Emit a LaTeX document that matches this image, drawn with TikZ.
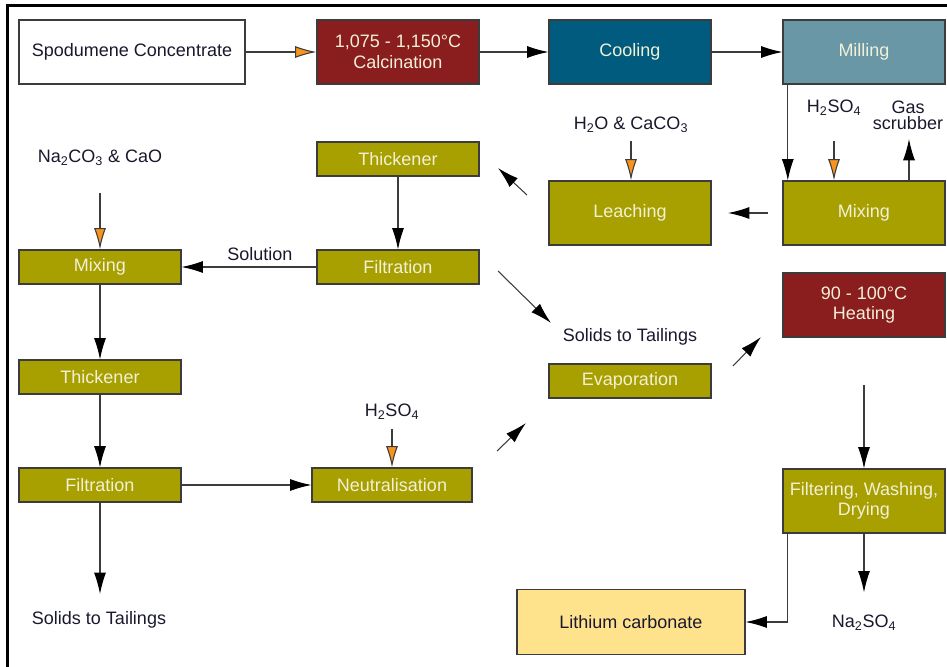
\documentclass[tikz,border=0pt]{standalone}
\usepackage{fontspec}
\setmainfont{Liberation Sans}
\usetikzlibrary{arrows.meta,calc}
\definecolor{calcred}{RGB}{138,29,29}
\definecolor{coolblue}{RGB}{0,91,126}
\definecolor{millblue}{RGB}{105,151,166}
\definecolor{procolive}{RGB}{168,160,0}
\definecolor{lithyellow}{RGB}{255,226,140}
\definecolor{tiporange}{RGB}{247,148,29}
\definecolor{linegray}{RGB}{60,60,60}
\definecolor{boxtext}{RGB}{242,240,215}
\definecolor{labeltext}{RGB}{25,25,45}

\begin{document}
\begin{tikzpicture}[x=0.75pt, y=-0.75pt, font=\fontsize{13.5}{15.5}\selectfont,
	box/.style={draw=linegray, line width=0.8pt, minimum width=121.5pt, minimum height=48pt, inner sep=0pt, align=center, text=boxtext},
	olivebox/.style={box, fill=procolive},
	thinbox/.style={olivebox, minimum height=25.5pt},
	lbl/.style={text=labeltext, align=center, inner sep=1pt},
	arr/.style={draw=linegray, line width=0.8pt, -{Latex[length=16pt,width=9pt,color=black]}},
	feed/.style={draw=linegray, line width=0.8pt, -{Latex[length=16pt,width=9pt,fill=tiporange]}}]
			%%%%% START %%%%%
			\useasboundingbox (0,0) rectangle (947,667);
			\draw[line width=2.25pt] (7,667) -- (7,6) -- (947,6);
			
			% top row
			\node[box, fill=white, text=labeltext, minimum width=169.5pt] (spod) at (132,52) {Spodumene Concentrate};
			\node[box, fill=calcred] (calc) at (398,52) {1,075 - 1,150°C\\Calcination};
			\node[box, fill=coolblue] (cool) at (630,52) {Cooling};
			\node[box, fill=millblue] (mill) at (864,52) {Milling};
			
			% acid leach
			\node[olivebox] (mixR) at (864,213) {Mixing};
			\node[olivebox] (leach) at (630,213) {Leaching};
			\node[thinbox] (thickT) at (398,159) {Thickener};
			\node[thinbox] (filtT) at (398,267) {Filtration};
			
			% left column
			\node[thinbox] (mixL) at (100,267) {Mixing};
			\node[thinbox] (thickL) at (100,377) {Thickener};
			\node[thinbox] (filtL) at (100,485) {Filtration};
			\node[thinbox, minimum width=120pt] (neut) at (392,485) {Neutralisation};
			
			% product
			\node[thinbox] (evap) at (630,381) {Evaporation};
			\node[box, fill=calcred] (heat) at (864,305) {90 - 100°C\\Heating};
			\node[olivebox] (fwd) at (864,501) {Filtering, Washing,\\Drying};
			\node[box, fill=lithyellow, text=labeltext, minimum width=171pt, minimum height=48.75pt] (lico) at (631,622) {Lithium carbonate};
			
			% labels
			\node[lbl] (h2oIn) at (631,125) {H\textsubscript{2}O \& CaCO\textsubscript{3}};
			\node[lbl] (h2soR) at (834,108) {H\textsubscript{2}SO\textsubscript{4}};
			\node[lbl, font=\fontsize{13.5}{12}\selectfont] (gas) at (908,115) {Gas\\scrubber};
			\node[lbl] (na2co) at (100,158) {Na\textsubscript{2}CO\textsubscript{3} \& CaO};
			\node[lbl] (tailT) at (630,337) {Solids to Tailings};
			\node[lbl] (h2soN) at (392,412) {H\textsubscript{2}SO\textsubscript{4}};
			\node[lbl] (tailL) at (99,620) {Solids to Tailings};
			\node[lbl] (naso) at (864,623) {Na\textsubscript{2}SO\textsubscript{4}};
			
			% free arrow ends
			\coordinate (gasOut) at (909,181);
			\coordinate (mixOut) at (768,213);
			\coordinate (leachIn) at (728,213);
			\coordinate (leachOut) at (527,195);
			\coordinate (thickIn) at (498,168);
			\coordinate (filtOut) at (498,271);
			\coordinate (tailIn) at (551,323);
			\coordinate (neutOut) at (497,451);
			\coordinate (evapIn) at (526,423);
			\coordinate (evapOut) at (733,366);
			\coordinate (heatIn) at (761,337);
			\coordinate (heatOut) at (864,385);
			
			% connectors
			\draw[feed] (spod) -- (calc);
			\draw[arr] (calc) -- (cool);
			\draw[arr] (cool) -- (mill);
			\draw[arr] ([xshift=4pt]mill.south west) -- ([xshift=4pt]mixR.north west);
			\draw[feed, shorten <=18pt] (h2soR.south) -- (h2soR.south |- mixR.north);
			\draw[arr, shorten >=6pt] (gasOut) -- (gasOut |- gas.south);
			\draw[arr] (mixOut) -- (leachIn);
			\draw[feed, shorten <=5pt] (h2oIn.south) -- (h2oIn.south |- leach.north);
			\draw[arr] (leachOut) -- (thickIn);
			\draw[arr] (thickT) -- (filtT);
			\draw[arr] (filtT) -- node[lbl, above=3pt, pos=0.42] {Solution} (mixL);
			\draw[arr] (filtOut) -- (tailIn);
			
			\draw[feed, shorten <=19pt] (na2co.south) -- (mixL.north);
			\draw[arr] (mixL) -- (thickL);
			\draw[arr] (thickL) -- (filtL);
			\draw[arr, shorten >=12pt] (filtL) -- (filtL |- tailL.north);
			\draw[arr] (filtL) -- (neut);
			\draw[feed, shorten <=6pt] (h2soN.south) -- (neut.north);
			\draw[arr] (neutOut) -- (evapIn);
			\draw[arr] (evapOut) -- (heatIn);
			
			\draw[arr] (heatOut) -- (fwd);
			\draw[arr, shorten >=16pt] (fwd) -- (naso);
			\draw[arr] ([xshift=4pt]fwd.south west) |- (lico.east);
			%%%%% END %%%%%
\end{tikzpicture}
\end{document}
